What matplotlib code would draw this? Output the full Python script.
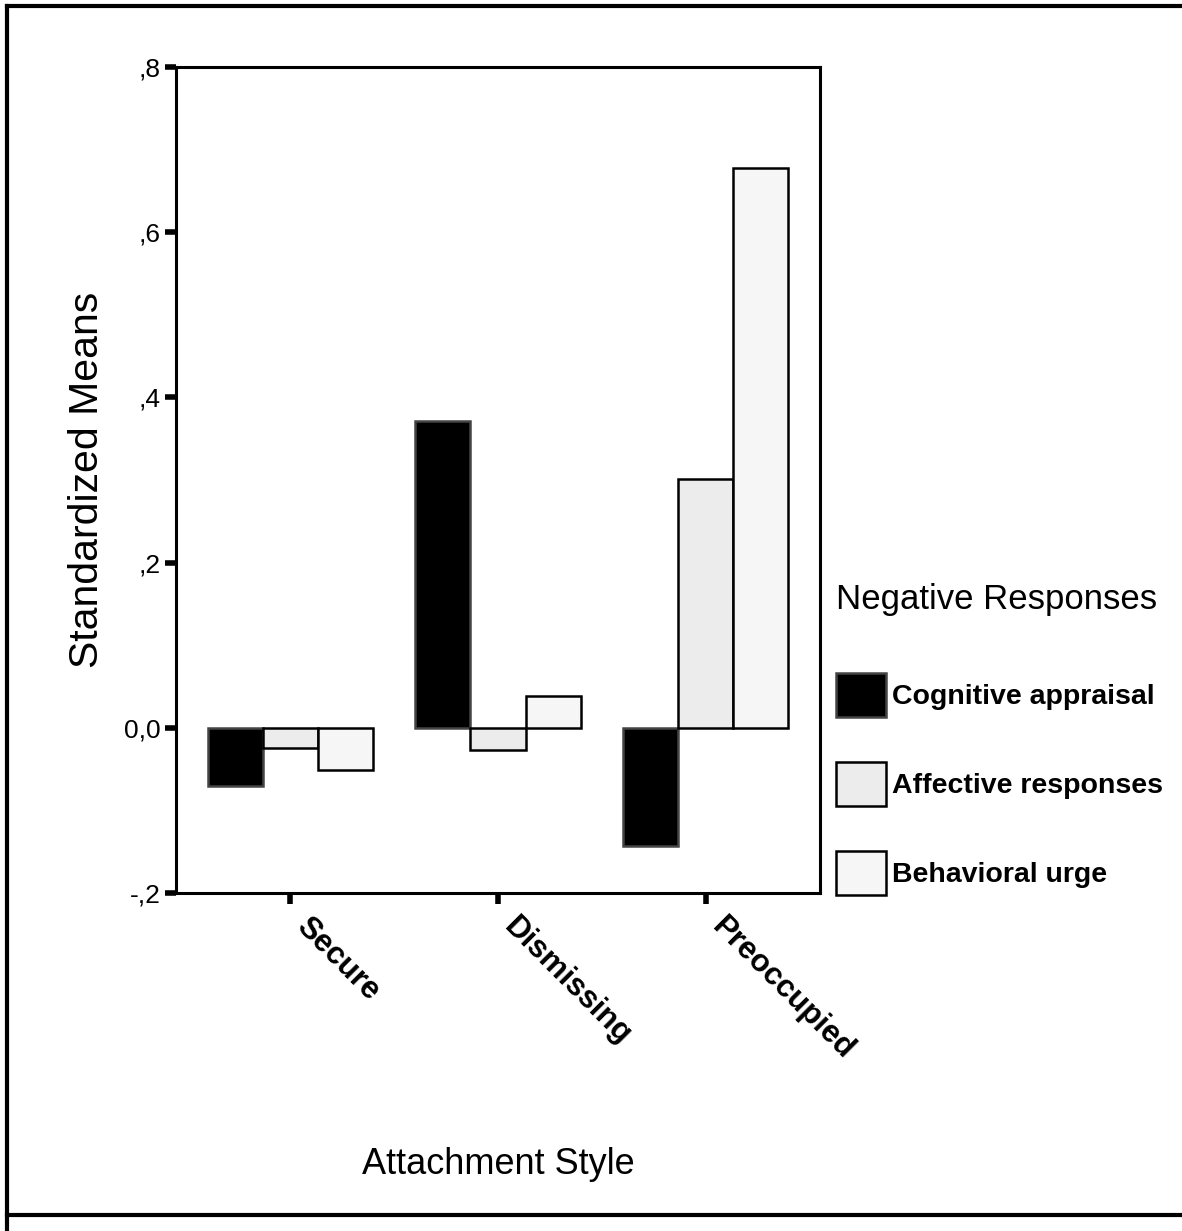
import matplotlib.pyplot as plt
import numpy as np
from matplotlib.lines import Line2D
from matplotlib.transforms import ScaledTranslation

# data
styles = ['Secure', 'Dismissing', 'Preoccupied']
series = ['Cognitive appraisal', 'Affective responses', 'Behavioral urge']
cognitive = [-0.071, 0.372, -0.143]
affective = [-0.025, -0.027, 0.301]
behavioral = [-0.051, 0.038, 0.678]
yticks = [-0.2, 0.0, 0.2, 0.4, 0.6, 0.8]
ytick_labels = ['-,2', '0,0', ',2', ',4', ',6', ',8']

colors = ['black', '#ececec', '#f6f6f6']
edges = ['#444444', 'black', 'black']

plt.rcParams['font.family'] = ['Liberation Sans', 'DejaVu Sans']

W, H = 1182, 1231
fig = plt.figure(figsize=(W / 100, H / 100), dpi=100)
ax = fig.add_axes([176 / W, 1 - 893 / H, 644 / W, 826 / H])

x = np.arange(len(styles))
w = 0.265
for i, vals in enumerate([cognitive, affective, behavioral]):
    ax.bar(x + (i - 1) * w, vals, width=w, color=colors[i], edgecolor=edges[i],
           linewidth=1.8, label=series[i])

ax.set_xlim(-0.55, 2.55)
ax.set_ylim(-0.2, 0.8)
ax.set_yticks(yticks)
ax.set_yticklabels(ytick_labels, fontsize=19)
ax.set_xticks(x)
ax.set_xticklabels([])
# category labels, slanted, starting a little right of each tick
offset = ScaledTranslation(21 / 100, -19 / 100, fig.dpi_scale_trans)
for xi, name in zip(x, styles):
    ax.text(xi, 0, name, transform=ax.get_xaxis_transform() + offset,
            fontsize=22.5, fontweight='bold', rotation=-45,
            ha='left', va='top', rotation_mode='anchor')
ax.tick_params(axis='y', direction='out', length=8, width=4, pad=3)
ax.tick_params(axis='x', direction='out', length=8, width=4)
for sp in ax.spines.values():
    sp.set_linewidth(2.2)

ax.set_ylabel('Standardized Means', fontsize=29.5)
ax.yaxis.set_label_coords(-0.108, 0.5)
fig.text(498 / W, 1 - 1165 / H, 'Attachment Style', fontsize=26,
         ha='center', va='center')

fs = 20.5
spacing = 1.6
leg = fig.legend(loc='upper left', bbox_to_anchor=(836 / W, 1 - 583 / H),
                 title='Negative Responses', frameon=False,
                 borderpad=0, borderaxespad=0,
                 handlelength=1.75, handleheight=1.99, handletextpad=0.2,
                 labelspacing=spacing,
                 prop={'weight': 'bold', 'size': fs})
leg.get_title().set_fontsize(25)
leg._legend_box.align = 'left'
# a bit more room between the title and the entries
leg._legend_box.sep = 1.65 * fs + 7

# outer frame (top, left, bottom; open at right)
lw = 3
fig.add_artist(Line2D([7 / W, 1], [1 - 6 / H, 1 - 6 / H], transform=fig.transFigure,
                      color='black', linewidth=lw))
fig.add_artist(Line2D([7 / W, 7 / W], [0, 1 - 6 / H], transform=fig.transFigure,
                      color='black', linewidth=lw))
fig.add_artist(Line2D([7 / W, 1], [1 - 1215 / H, 1 - 1215 / H], transform=fig.transFigure,
                      color='black', linewidth=lw))

fig.savefig('out.png', dpi=100)
